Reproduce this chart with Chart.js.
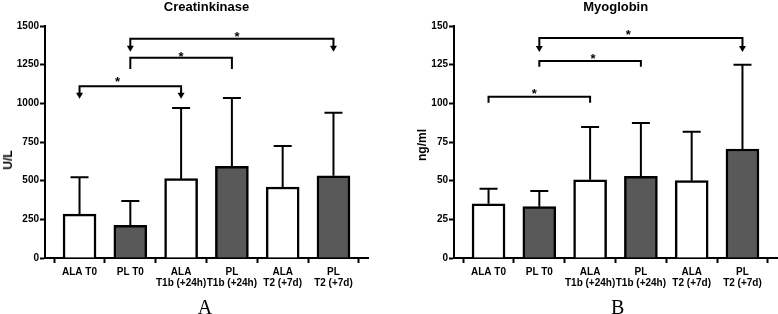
<!DOCTYPE html>
<html><head><meta charset="utf-8">
<script src="https://cdn.jsdelivr.net/npm/chart.js@4/dist/chart.umd.min.js"></script>
<style>
html,body{margin:0;padding:0;background:#fff;}
body{width:778px;height:314px;position:relative;overflow:hidden;font-family:"Liberation Sans",Arial,sans-serif;color:#000;}
.cw{position:absolute;top:0;height:314px;}
.title{position:absolute;top:-0.5px;font-weight:bold;font-size:13px;line-height:13px;transform:translateX(-50%);white-space:nowrap;}
.ytitle{position:absolute;font-weight:bold;font-size:12px;line-height:12px;transform:translate(-50%,-50%) rotate(-90deg);white-space:nowrap;}
.panel{position:absolute;font-family:"Liberation Serif","Times New Roman",serif;font-size:20px;line-height:20px;top:296.5px;transform:translateX(-50%);}
</style></head><body>
<div class="cw" style="left:0;width:390px"><canvas id="c1" width="390" height="314"></canvas></div>
<div class="cw" style="left:390px;width:388px"><canvas id="c2" width="388" height="314"></canvas></div>
<div class="title" style="left:206.5px">Creatinkinase</div>
<div class="title" style="left:615.7px">Myoglobin</div>
<div class="ytitle" style="left:8px;top:160px">U/L</div>
<div class="ytitle" style="left:422px;top:145px">ng/ml</div>
<div class="panel" style="left:205px">A</div>
<div class="panel" style="left:617.7px">B</div>
<script>
// ---- data ----
const categories = [["ALA T0"], ["PL T0"], ["ALA", "T1b (+24h)"], ["PL", "T1b (+24h)"], ["ALA", "T2 (+7d)"], ["PL", "T2 (+7d)"]];
const groups = ["ALA", "PL", "ALA", "PL", "ALA", "PL"];

const ckMean = [284, 211, 513, 593, 459, 532];
const ckSD   = [238, 157, 457, 441, 265, 407];
const ckTicks = [0, 250, 500, 750, 1000, 1250, 1500];

const mbMean = [35.0, 33.2, 50.6, 52.8, 50.0, 70.5];
const mbSD   = [9.8, 10.1, 34.1, 34.5, 31.7, 54.5];
const mbTicks = [0, 25, 50, 75, 100, 125, 150];

// significance brackets: from category, to category, bracket level, end level, arrowheads
const ckSig = [
  {from: 0, to: 2, level: 1110, end: 1030, arrows: true,  star: 0.75, starLevel: 1164},
  {from: 1, to: 3, level: 1295, end: 1222, arrows: false, star: 2.0,  starLevel: 1325},
  {from: 1, to: 5, level: 1418, end: 1334, arrows: true,  star: 3.1,  starLevel: 1455}
];
const mbSig = [
  {from: 0, to: 2, level: 104.3, end: 100.4, arrows: false, star: 0.9,  starLevel: 108.2},
  {from: 1, to: 3, level: 127.4, end: 123.7, arrows: false, star: 2.06, starLevel: 131.2},
  {from: 1, to: 5, level: 142.2, end: 133.2, arrows: true,  star: 2.75, starLevel: 146.3}
];

const FONT = '"Liberation Sans", Arial, sans-serif';

function errorBars(mean, sd) {
  return {
    id: 'errorBars',
    afterDatasetsDraw(chart) {
      const {ctx, scales: {x, y}} = chart;
      ctx.save();
      ctx.strokeStyle = '#000';
      ctx.lineWidth = 2;
      mean.forEach((m, i) => {
        const px = x.getPixelForValue(i);
        const y0 = y.getPixelForValue(m);
        const y1 = y.getPixelForValue(m + sd[i]);
        ctx.beginPath();
        ctx.moveTo(px, y0); ctx.lineTo(px, y1);
        ctx.moveTo(px - 9, y1); ctx.lineTo(px + 9, y1);
        ctx.stroke();
      });
      ctx.restore();
    }
  };
}

function sigBrackets(sig) {
  return {
    id: 'sigBrackets',
    afterDatasetsDraw(chart) {
      const {ctx, scales: {x, y}} = chart;
      ctx.save();
      ctx.strokeStyle = '#000';
      ctx.fillStyle = '#000';
      ctx.lineWidth = 2;
      sig.forEach(s => {
        const xa = x.getPixelForValue(s.from), xb = x.getPixelForValue(s.to);
        const yl = y.getPixelForValue(s.level), ye = y.getPixelForValue(s.end);
        const lineEnd = s.arrows ? ye - 5 : ye;
        ctx.beginPath();
        ctx.moveTo(xa, lineEnd); ctx.lineTo(xa, yl); ctx.lineTo(xb, yl); ctx.lineTo(xb, lineEnd);
        ctx.stroke();
        if (s.arrows) {
          [xa, xb].forEach(px => {
            ctx.beginPath();
            ctx.moveTo(px - 3.5, ye - 6);
            ctx.lineTo(px + 3.5, ye - 6);
            ctx.lineTo(px, ye);
            ctx.closePath();
            ctx.fill();
          });
        }
        const size = 13;
        ctx.font = 'bold ' + size + 'px ' + FONT;
        ctx.textAlign = 'center';
        ctx.textBaseline = 'alphabetic';
        ctx.fillText('*', x.getPixelForValue(s.star), y.getPixelForValue(s.starLevel) + 0.58 * size);
      });
      ctx.restore();
    }
  };
}

function makeChart(id, mean, sd, ticks, sig, yWidth, padRight) {
  const data = mean.map((m, i) => ({x: i, y: m}));
  const fills = groups.map(g => g === 'PL' ? '#595959' : '#ffffff');
  const axisGrid = {display: true, drawOnChartArea: false, drawTicks: true, tickLength: 5, tickWidth: 2, tickColor: '#000'};
  const axisBorder = {display: true, color: '#000', width: 2};
  return new Chart(document.getElementById(id), {
    type: 'bar',
    data: {datasets: [{
      data,
      backgroundColor: fills,
      borderColor: '#000',
      borderWidth: 2.5,
      barThickness: 33
    }]},
    options: {
      responsive: false,
      animation: false,
      devicePixelRatio: 1,
      layout: {padding: {top: 26, left: 0, right: padRight, bottom: 0}},
      plugins: {legend: {display: false}, tooltip: {enabled: false}, title: {display: false}},
      scales: {
        x: {
          type: 'linear', min: -0.68, max: 5.68, offset: false,
          afterBuildTicks: s => { s.ticks = categories.map((_, i) => ({value: i})); },
          afterFit: s => { s.height = 56; },
          grid: axisGrid,
          border: axisBorder,
          ticks: {
            autoSkip: false, maxRotation: 0, minRotation: 0, padding: 3, color: '#000',
            font: {family: FONT, size: 10, weight: 'bold', lineHeight: 1.16},
            callback: v => categories[v]
          }
        },
        y: {
          min: ticks[0], max: ticks[ticks.length - 1],
          afterBuildTicks: s => { s.ticks = ticks.map(v => ({value: v})); },
          afterFit: s => { s.width = yWidth; },
          grid: axisGrid,
          border: axisBorder,
          ticks: {
            padding: 1, color: '#000',
            font: {family: FONT, size: 10, weight: 'bold'},
            callback: v => String(v)
          }
        }
      }
    },
    plugins: [errorBars(mean, sd), sigBrackets(sig)]
  });
}

makeChart('c1', ckMean, ckSD, ckTicks, ckSig, 45, 22);
makeChart('c2', mbMean, mbSD, mbTicks, mbSig, 64, 1);
</script>
</body></html>
